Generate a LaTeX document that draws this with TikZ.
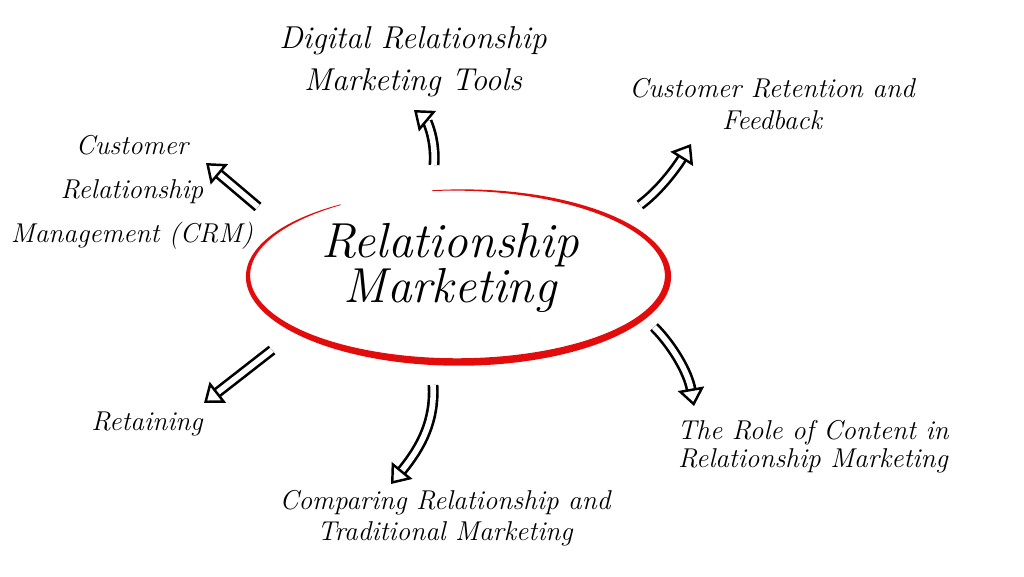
\documentclass[tikz,border=0pt]{standalone}
\usepackage{tikz}
\usetikzlibrary{arrows.meta}
\usetikzlibrary{positioning}

\definecolor{ringred}{RGB}{226,12,12}

\tikzset{
    topic/.style={align=center, font=\itshape\fontsize{15.5}{18}\selectfont},
    hub/.style={align=center, font=\itshape\fontsize{28}{26}\selectfont},
    hollowarrow/.style={double, double distance=3.2pt, line width=1.5pt, -{Triangle[open, length=10pt, width=15pt, line width=1.4pt, fill=white]}},
}

\begin{document}
\begin{tikzpicture}[x=0.02cm, y=-0.02cm]
    \useasboundingbox (0,0) rectangle (1024,576);

    % Centre topic with the red hand-drawn ring
    \node[hub] (hub) at (450,268) {Relationship\\Marketing};
    \fill[ringred]
        plot[domain=-97:236, samples=100, smooth] ({458+(210+(0.4+3.4*sin(0.5405*(\x+97))))*cos(\x)}, {276+(86+(0.4+3.4*sin(0.5405*(\x+97))))*sin(\x)})
        -- plot[domain=236:-97, samples=100, smooth] ({458+(210-(0.4+3.4*sin(0.5405*(\x+97))))*cos(\x)}, {276+(86-(0.4+3.4*sin(0.5405*(\x+97))))*sin(\x)})
        -- cycle;

    % Topics around
    \node[topic, font=\itshape\fontsize{18}{24}\selectfont] (tools) at (413,62) {Digital Relationship\\Marketing Tools};
    \node[topic] (retention) at (772,104) {Customer Retention and\\Feedback};
    \node[topic, font=\itshape\fontsize{15.5}{25}\selectfont] (crm) at (132,192) {Customer\\Relationship\\Management (CRM)};
    \node[topic] (retaining) at (147,424) {Retaining};
    \node[topic] (comparing) at (445,518) {Comparing Relationship and\\Traditional Marketing};
    \node[topic, font=\itshape\fontsize{15.5}{16}\selectfont] (content) at (813,447) {The Role of Content in\\Relationship Marketing};

    % Arrow ends
    \coordinate (tools-tail) at (434,165);
    \coordinate (tools-head) at (414,110);
    \coordinate (crm-tail) at (258,207);
    \coordinate (crm-head) at (206,163);
    \coordinate (retention-tail) at (640,205);
    \coordinate (retention-head) at (691,144);
    \coordinate (retaining-tail) at (272,350);
    \coordinate (retaining-head) at (204,403);
    \coordinate (comparing-tail) at (433,385);
    \coordinate (comparing-head) at (391,484);
    \coordinate (content-tail) at (654,327);
    \coordinate (content-head) at (694,406);

    % Arrows
    \draw[hollowarrow] (tools-tail) .. controls (436,138) and (426,120) .. (tools-head);
    \draw[hollowarrow] (crm-tail) -- (crm-head);
    \draw[hollowarrow] (retention-tail) .. controls (660,190) and (676,168) .. (retention-head);
    \draw[hollowarrow] (retaining-tail) -- (retaining-head);
    \draw[hollowarrow] (comparing-tail) .. controls (435,420) and (422,446) .. (comparing-head);
    \draw[hollowarrow] (content-tail) .. controls (672,345) and (688,372) .. (content-head);
\end{tikzpicture}
\end{document}
